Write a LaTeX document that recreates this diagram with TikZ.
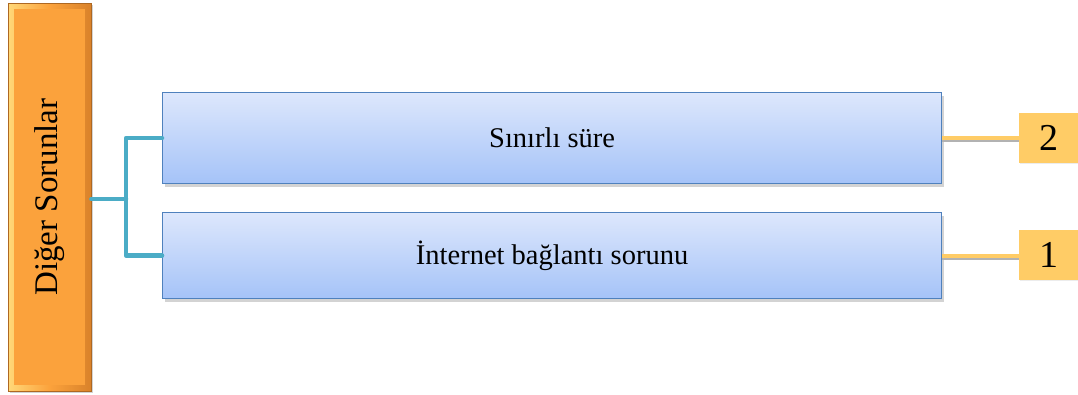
\documentclass[tikz,border=0pt]{standalone}
\usepackage{fontspec}
\setmainfont{Liberation Serif}
\usetikzlibrary{shadows,calc}
\definecolor{bartop}{HTML}{FBA23C}
\definecolor{barlight}{HTML}{FFD878}
\definecolor{bardark}{HTML}{D9822A}
\definecolor{boxtop}{HTML}{DDE7FC}
\definecolor{boxbot}{HTML}{A5C3F8}
\definecolor{boxline}{HTML}{4F81BD}
\definecolor{tealline}{HTML}{4BACC6}
\definecolor{numfill}{HTML}{FFCC66}
\begin{document}
\begin{tikzpicture}[x=1pt,y=-1pt,
  itembox/.style={draw=boxline,line width=1.2pt,top color=boxtop,bottom color=boxbot,
    drop shadow={shadow xshift=2pt,shadow yshift=-3pt,opacity=0.35},
    minimum width=779pt,anchor=north west,font=\fontsize{28.5}{32}\selectfont},
  numbox/.style={fill=numfill,minimum width=59pt,minimum height=50pt,anchor=north west,
    drop shadow={shadow xshift=1pt,shadow yshift=-1pt,opacity=0.15},
    font=\fontsize{38}{42}\selectfont},
  branch/.style={draw=tealline,line width=4.5pt,line cap=round,line join=round},
  lead/.style={draw=numfill,line width=4pt,
    preaction={draw=black!30,line width=4pt,transform canvas={yshift=-2pt}}}]
\useasboundingbox (0,0) rectangle (1078,394);
% vertical title bar
\node[anchor=north west,minimum width=83pt,minimum height=388pt,inner sep=0pt,
  left color=barlight,right color=bardark,middle color=bartop,
  draw=bardark!80!black,line width=0.4pt,
  drop shadow={shadow xshift=2pt,shadow yshift=-2pt,opacity=0.35}] (bar) at (8,3) {};
\fill[bartop] ($(bar.north west)+(6,6)$) rectangle ($(bar.south east)+(-6,-6)$);
\node[rotate=90,font=\fontsize{33}{36}\selectfont] (title) at (bar.center) {Diğer Sorunlar};
% item boxes
\node[itembox,minimum height=91pt] (b1) at (162,92) {Sınırlı süre};
\node[itembox,minimum height=86pt] (b2) at (162,212) {İnternet bağlantı sorunu};
% number boxes
\node[numbox] (n2) at (1019,113) {2};
\node[numbox] (n1) at (1019,230) {1};
% connectors
\coordinate (fork) at (126,199);
\draw[branch] (bar.east |- fork) -- (fork);
\draw[branch] (b1.west) -| (fork) |- (b2.west);
\draw[lead] (b1.east) -- (n2.west |- b1.east);
\draw[lead] (b2.east) -- (n1.west |- b2.east);
\end{tikzpicture}
\end{document}
